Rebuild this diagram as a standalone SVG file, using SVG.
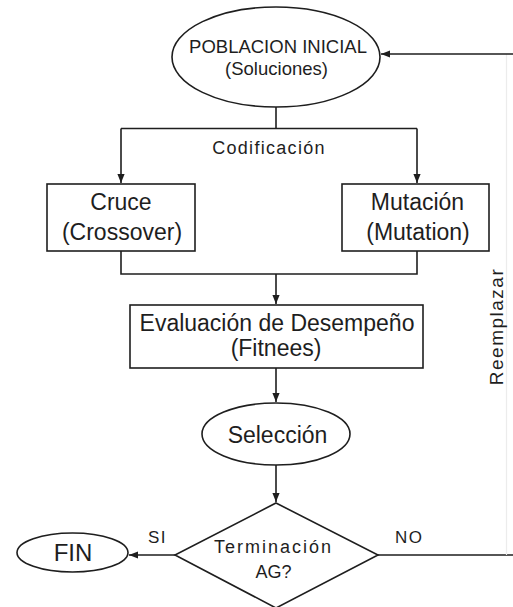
<svg xmlns="http://www.w3.org/2000/svg" width="513" height="607" viewBox="0 0 513 607">
<style>
  .shape { fill: #ffffff; stroke: #1e1e1e; stroke-width: 1.6; }
  .line { fill: none; stroke: #1e1e1e; stroke-width: 1.6; }
  .faint { fill: none; stroke: #ececec; stroke-width: 1.2; }
  text { font-family: "Liberation Sans", Arial, sans-serif; fill: #1e1e1e; text-anchor: middle; }
  .big { font-size: 23px; }
  .mid { font-size: 18.5px; }
  .lab { font-size: 17px; letter-spacing: 1.5px; text-anchor: start; }
</style>
<defs>
  <marker id="ah" viewBox="0 0 10 10" refX="10" refY="5" markerWidth="9" markerHeight="9" markerUnits="userSpaceOnUse" orient="auto">
    <path d="M0,1 L10,5 L0,9 z" fill="#1e1e1e"/>
  </marker>
</defs>
<rect width="513" height="607" fill="#ffffff"/>

<g id="connectors">
  <path class="line" d="M276,107 V128.5"/>
  <path class="line" d="M121,128.5 H417"/>
  <path class="line" d="M121,128.5 V183" marker-end="url(#ah)"/>
  <path class="line" d="M417,128.5 V183" marker-end="url(#ah)"/>
  <path class="line" d="M121,251 V274 H417 V251"/>
  <path class="line" d="M276,274 V304" marker-end="url(#ah)"/>
  <path class="line" d="M276,368 V402" marker-end="url(#ah)"/>
  <path class="line" d="M276,465 V502" marker-end="url(#ah)"/>
  <path class="line" d="M175,555 H129" marker-end="url(#ah)"/>
  <path class="line" d="M378,555 H513"/>
  <path class="faint" d="M506.5,54 V555"/>
  <path class="line" d="M513,54 H381" marker-end="url(#ah)"/>
  <text x="269" y="154" style="font-size:18px;letter-spacing:1.3px">Codificación</text>
  <text x="503" y="326.5" transform="rotate(-90 503 326.5)" style="font-size:19px;letter-spacing:1.5px">Reemplazar</text>
  <text class="lab" x="148" y="543">SI</text>
  <text class="lab" x="395" y="543">NO</text>
</g>

<g id="poblacion">
  <ellipse class="shape" cx="276" cy="57" rx="104" ry="50"/>
  <text class="mid" x="278" y="53">POBLACION INICIAL</text>
  <text class="mid" x="276.5" y="75">(Soluciones)</text>
</g>

<g id="cruce">
  <rect class="shape" x="47" y="184" width="148" height="67"/>
  <text class="big" x="121" y="210">Cruce</text>
  <text class="big" x="122" y="240">(Crossover)</text>
</g>

<g id="mutacion">
  <rect class="shape" x="342" y="184" width="147" height="67"/>
  <text class="big" x="417.5" y="210">Mutación</text>
  <text class="big" x="418" y="240">(Mutation)</text>
</g>

<g id="evaluacion">
  <rect class="shape" x="130" y="305" width="293" height="63"/>
  <text class="big" x="277" y="331">Evaluación de Desempeño</text>
  <text class="big" x="276" y="356">(Fitnees)</text>
</g>

<g id="seleccion">
  <ellipse class="shape" cx="276" cy="434" rx="74" ry="31"/>
  <text class="big" x="277.5" y="443">Selección</text>
</g>

<g id="terminacion">
  <polygon class="shape" points="276,503 378,555 276,608 175,555"/>
  <text x="273.5" y="553" style="font-size:18px;letter-spacing:2px">Terminación</text>
  <text x="273.5" y="578" style="font-size:18px">AG?</text>
</g>

<g id="fin">
  <ellipse class="shape" cx="72.5" cy="552.5" rx="55.5" ry="19.5"/>
  <text x="73" y="561" style="font-size:24px">FIN</text>
</g>
</svg>
